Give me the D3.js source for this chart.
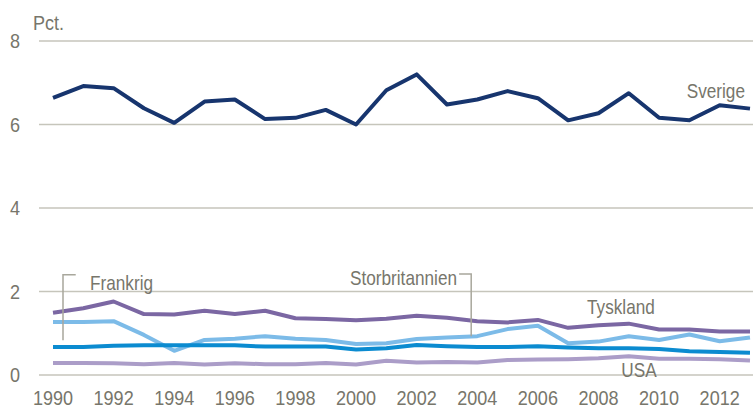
<!DOCTYPE html>
<html><head><meta charset="utf-8">
<script src="https://cdn.jsdelivr.net/npm/d3@7"></script>
<style>
html,body{margin:0;padding:0;background:#fff;}
svg text{font-family:"Liberation Sans Narrow","Arial Narrow","Liberation Sans",Arial,sans-serif;fill:#77766b;}
</style></head><body>
<svg id="c" width="753" height="410"></svg>
<script>
const years = d3.range(1990, 2014);
const sverige = [6.64,6.92,6.87,6.39,6.04,6.55,6.6,6.13,6.16,6.35,6.0,6.82,7.2,6.48,6.6,6.8,6.63,6.1,6.27,6.75,6.16,6.1,6.46,6.38];
const tyskland = [1.49,1.6,1.76,1.46,1.45,1.54,1.46,1.54,1.36,1.34,1.31,1.35,1.42,1.37,1.29,1.26,1.32,1.13,1.19,1.23,1.09,1.09,1.04,1.04];
const frankrig = [1.27,1.27,1.29,0.96,0.58,0.84,0.87,0.93,0.87,0.84,0.74,0.76,0.86,0.9,0.93,1.1,1.18,0.76,0.8,0.93,0.84,0.97,0.81,0.9];
const storbritannien = [0.67,0.67,0.7,0.71,0.71,0.71,0.71,0.68,0.68,0.68,0.61,0.64,0.72,0.69,0.67,0.67,0.69,0.66,0.64,0.64,0.62,0.57,0.55,0.53];
const usa = [0.29,0.29,0.28,0.26,0.29,0.25,0.28,0.26,0.26,0.29,0.25,0.34,0.3,0.31,0.3,0.36,0.37,0.38,0.4,0.45,0.39,0.39,0.38,0.35];
const yTicks = [0,2,4,6,8];
const xTicks = d3.range(1990, 2013, 2);

const series = [
  {name:"USA", values:usa, color:"#ab9dc8"},
  {name:"Frankrig", values:frankrig, color:"#7cbbe8"},
  {name:"Storbritannien", values:storbritannien, color:"#0b8bd0"},
  {name:"Tyskland", values:tyskland, color:"#7b67a3"},
  {name:"Sverige", values:sverige, color:"#17356e"}
];

const svg = d3.select("#c");
const x = d3.scaleLinear().domain([1990, 2013]).range([53, 750]);
const y = d3.scaleLinear().domain([0, 8]).range([375, 41]);
const gridColor = "#c6c5bb";
const SX = 0.86;

function txt(g, px, py, anchor, str, size) {
  return g.append("text")
    .attr("transform", `translate(${px},${py}) scale(${SX},1)`)
    .attr("text-anchor", anchor)
    .attr("font-size", size || 20)
    .text(str);
}

// gridlines
svg.append("g").selectAll("line").data(yTicks).join("line")
  .attr("x1", 39).attr("x2", 753)
  .attr("y1", d => y(d)).attr("y2", d => y(d))
  .attr("stroke", gridColor).attr("stroke-width", 1.5);

// y labels
const gy = svg.append("g");
yTicks.forEach(d => txt(gy, 20, y(d) + 7, "end", d, 21));

txt(svg, 33, 30, "start", "Pct.", 21);

// x labels
const gx = svg.append("g");
xTicks.forEach(d => txt(gx, x(d), 405, "middle", d, 21));

// lines
const line = d3.line().x((d, i) => x(years[i])).y(d => y(d));
svg.append("g").selectAll("path").data(series).join("path")
  .attr("d", d => line(d.values))
  .attr("fill", "none").attr("stroke", d => d.color)
  .attr("stroke-width", 4).attr("stroke-linejoin", "round");

// leader lines
const leaderColor = "#a8a79c";
svg.append("path")
  .attr("d", `M${x(1990.75)},${y(2.4)} H${x(1990.33)} V${y(0.83)}`)
  .attr("fill", "none").attr("stroke", leaderColor).attr("stroke-width", 1.5);
svg.append("path")
  .attr("d", `M${x(2003.4)},${y(2.42)} H${x(2003.8)} V${y(0.93)}`)
  .attr("fill", "none").attr("stroke", leaderColor).attr("stroke-width", 1.5);

// labels
txt(svg, 90, 290, "start", "Frankrig");
txt(svg, 457, 285, "end", "Storbritannien");
txt(svg, 587, 314, "start", "Tyskland");
txt(svg, 639, 377, "middle", "USA");
txt(svg, 745, 98, "end", "Sverige");
</script>
</body></html>
